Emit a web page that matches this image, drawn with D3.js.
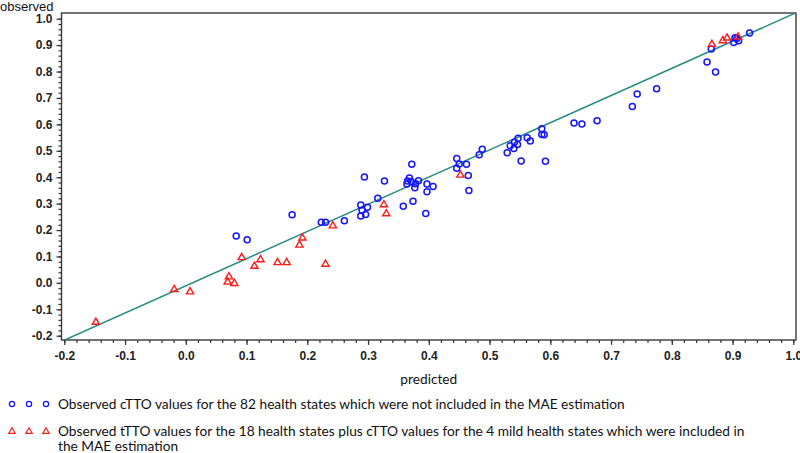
<!DOCTYPE html>
<html><head><meta charset="utf-8">
<script src="https://cdn.jsdelivr.net/npm/d3@7/dist/d3.min.js"></script>
<style>body{margin:0;background:#fff}svg{display:block}</style>
</head><body>
<svg id="c" width="800" height="453"></svg>
<script>
// ---- data ----
const blueX = [0.083,0.101,0.175,0.223,0.230,0.261,0.288,0.290,0.288,0.296,0.299,0.316,0.294,0.327,0.372,0.368,0.365,0.364,0.371,0.383,0.377,0.378,0.397,0.407,0.397,0.374,0.358,0.395,0.446,0.450,0.462,0.446,0.465,0.466,0.483,0.488,0.529,0.534,0.540,0.547,0.541,0.546,0.552,0.562,0.567,0.586,0.586,0.590,0.592,0.639,0.652,0.677,0.735,0.743,0.775,0.858,0.865,0.872,0.902,0.904,0.910,0.907,0.928];
const blueY = [0.177,0.163,0.258,0.229,0.229,0.235,0.295,0.275,0.253,0.259,0.286,0.320,0.401,0.386,0.449,0.397,0.386,0.374,0.384,0.387,0.360,0.375,0.374,0.365,0.345,0.309,0.290,0.263,0.471,0.450,0.449,0.434,0.406,0.350,0.485,0.506,0.493,0.519,0.509,0.547,0.532,0.524,0.461,0.549,0.537,0.583,0.562,0.561,0.460,0.605,0.601,0.614,0.668,0.715,0.735,0.836,0.885,0.798,0.910,0.928,0.917,0.925,0.946];
const redX = [-0.148,-0.019,0.007,0.071,0.069,0.080,0.092,0.113,0.123,0.151,0.166,0.187,0.192,0.230,0.242,0.326,0.330,0.452,0.866,0.884,0.891,0.909];
const redY = [-0.147,-0.023,-0.032,0.025,0.005,0.000,0.098,0.065,0.090,0.079,0.079,0.145,0.172,0.073,0.218,0.298,0.264,0.410,0.905,0.919,0.929,0.933];
const refLineX = [-0.2, 1.004];
const refLineY = [-0.217, 1.022];
const xTicks = [-0.2,-0.1,0.0,0.1,0.2,0.3,0.4,0.5,0.6,0.7,0.8,0.9,1.0];
const yTicks = [-0.2,-0.1,0.0,0.1,0.2,0.3,0.4,0.5,0.6,0.7,0.8,0.9,1.0];
const xTitle = "predicted";
const yTitle = "observed";
const legendLabels = [
  ["Observed cTTO values for the 82 health states which were not included in the MAE estimation"],
  ["Observed tTTO values for the 18 health states plus cTTO values for the 4 mild health states which were included in","the MAE estimation"]
];

// ---- layout ----
const svg = d3.select("#c");
const L = 61.5, R = 796, T = 13, B = 340;
const x = d3.scaleLinear().domain([-0.2, 1.0]).range([64.3, 793.3]);
const y = d3.scaleLinear().domain([-0.2, 1.0]).range([335.7, 18.7]);
const axisCol = "#333";
const minor = (a,b,step) => d3.range(Math.round(a/step), Math.round(b/step)+1).map(i => +(i*step).toFixed(3));

svg.append("defs").append("clipPath").attr("id","clip")
  .append("rect").attr("x",L).attr("y",T).attr("width",R-L).attr("height",B-T);

// frame
svg.append("rect").attr("x",L).attr("y",T).attr("width",R-L).attr("height",B-T)
  .attr("fill","none").attr("stroke","#3a3a3a").attr("stroke-width",1.4);

// y axis
const gy = svg.append("g").attr("transform",`translate(${L},0)`);
gy.call(d3.axisLeft(y).tickValues(minor(-0.2,1.0,0.02)).tickSize(3).tickFormat(""));
gy.select(".domain").remove();
const gy2 = svg.append("g").attr("transform",`translate(${L},0)`);
gy2.call(d3.axisLeft(y).tickValues(yTicks).tickSize(5).tickPadding(4).tickFormat(d => d.toFixed(1)));
gy2.select(".domain").remove();
[gy,gy2].forEach(g => g.selectAll("line").attr("stroke",axisCol).attr("stroke-width",1.2));
gy2.selectAll("text").attr("font-family","Liberation Sans, Arial, sans-serif").attr("font-weight","bold")
  .attr("font-size",12).attr("fill","#222");

// x axis
const gx = svg.append("g").attr("transform",`translate(0,${B})`);
gx.call(d3.axisBottom(x).tickValues(minor(-0.2,1.0,0.02)).tickSize(3).tickFormat(""));
gx.select(".domain").remove();
const gx2 = svg.append("g").attr("transform",`translate(0,${B})`);
gx2.call(d3.axisBottom(x).tickValues(xTicks).tickSize(5).tickPadding(6).tickFormat(d => d.toFixed(1)));
gx2.select(".domain").remove();
[gx,gx2].forEach(g => g.selectAll("line").attr("stroke",axisCol).attr("stroke-width",1.2));
gx2.selectAll("text").attr("font-family","Liberation Sans, Arial, sans-serif").attr("font-weight","bold")
  .attr("font-size",12).attr("fill","#222");

// titles
svg.append("text").attr("x",0).attr("y",10.5).text(yTitle)
  .attr("font-family","Liberation Sans, Arial, sans-serif").attr("font-size",13).attr("fill","#111");

// reference line
const plot = svg.append("g").attr("clip-path","url(#clip)");
plot.append("line")
  .attr("x1",x(refLineX[0])).attr("y1",y(refLineY[0]))
  .attr("x2",x(refLineX[1])).attr("y2",y(refLineY[1]))
  .attr("stroke","#258a80").attr("stroke-width",1.5);

// markers
const tri = "M0,-3.6L3.6,2.6L-3.6,2.6Z";
plot.selectAll("circle.b").data(blueX.map((v,i)=>[v,blueY[i]])).join("circle")
  .attr("class","b").attr("cx",d=>x(d[0])).attr("cy",d=>y(d[1])).attr("r",3)
  .attr("fill","none").attr("stroke","#1414ff").attr("stroke-width",1.5);
plot.selectAll("path.r").data(redX.map((v,i)=>[v,redY[i]])).join("path")
  .attr("class","r").attr("d",tri).attr("transform",d=>`translate(${x(d[0])},${y(d[1])})`)
  .attr("fill","none").attr("stroke","#ff1a1a").attr("stroke-width",1.4);

// x title and legend (Calibri-like font, size fitted to the reference width)
const lf = "Lato, 'Open Sans', sans-serif";
const probe = svg.append("text").attr("font-family",lf).attr("font-size",14).text(legendLabels[0][0]);
const w14 = probe.node().getComputedTextLength();
probe.remove();
const fs = 14 * 567 / w14;

svg.append("text").attr("x",x(0.4)).attr("y",384).attr("text-anchor","middle")
  .attr("font-family",lf).attr("font-size",fs).attr("fill","#111").text(xTitle);

const rowsY = [[404],[431,446]];
const markX = [12, 29, 46];
legendLabels.forEach((lines,k) => {
  lines.forEach((t,j) => {
    svg.append("text").attr("x",58).attr("y",rowsY[k][j]+4.5)
      .attr("font-family",lf).attr("font-size",fs).attr("fill","#111").text(t);
  });
  markX.forEach(mx => {
    if (k === 0) svg.append("circle").attr("cx",mx).attr("cy",rowsY[k][0]).attr("r",2.6)
      .attr("fill","none").attr("stroke","#1414ff").attr("stroke-width",1.3);
    else svg.append("path").attr("d","M0,-3.2L3.2,2.3L-3.2,2.3Z")
      .attr("transform",`translate(${mx},${rowsY[k][0]})`)
      .attr("fill","none").attr("stroke","#ff1a1a").attr("stroke-width",1.2);
  });
});
</script>
</body></html>
